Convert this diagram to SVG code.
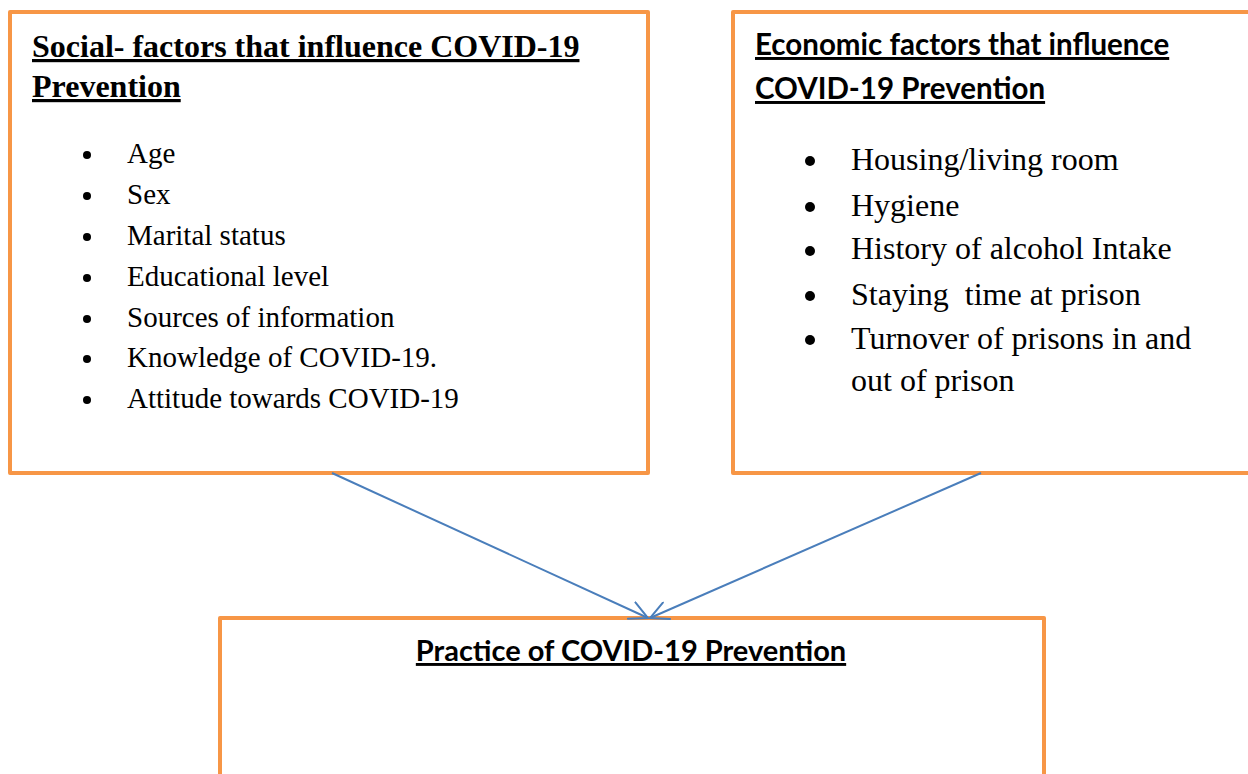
<svg xmlns="http://www.w3.org/2000/svg" width="1248" height="774" viewBox="0 0 1248 774">
  <style>
    .box { fill: #ffffff; stroke: #F79646; stroke-width: 4; stroke-linejoin: round; }
    .serif-title { font-family: "Liberation Serif", "Times New Roman", serif; font-weight: bold; font-size: 32px; fill: #000; text-decoration: underline; }
    .sans-title { font-family: Lato, "Liberation Sans", sans-serif; font-weight: bold; font-size: 29.5px; fill: #000; text-decoration: underline; }
    .item { font-family: "Liberation Serif", "Times New Roman", serif; fill: #000; }
    .left-item { font-size: 29px; }
    .right-item { font-size: 32px; }
    .link { stroke: #4A7EBB; stroke-width: 2; fill: none; }
  </style>
  <defs>
    <marker id="openArrow" viewBox="0 0 20 20" refX="19" refY="10" markerWidth="20" markerHeight="20" markerUnits="userSpaceOnUse" orient="auto">
      <path d="M1,1 L19,10 L1,19" fill="none" stroke="#4A7EBB" stroke-width="2" stroke-linecap="round"/>
    </marker>
  </defs>

  <rect width="1248" height="774" fill="#ffffff"/>

  <!-- Social factors -->
  <g id="social-factors">
    <rect class="box" x="10" y="12" width="638" height="461"/>
    <text class="serif-title" x="32" y="57">Social- factors that influence COVID-19</text>
    <text class="serif-title" x="32" y="97">Prevention</text>
    <g class="item left-item">
      <circle cx="87" cy="155" r="4"/><text x="127" y="163">Age</text>
      <circle cx="87" cy="196" r="4"/><text x="127" y="204">Sex</text>
      <circle cx="87" cy="237" r="4"/><text x="127" y="245">Marital status</text>
      <circle cx="87" cy="278" r="4"/><text x="127" y="286">Educational level</text>
      <circle cx="87" cy="319" r="4"/><text x="127" y="327">Sources of information</text>
      <circle cx="87" cy="359" r="4"/><text x="127" y="367">Knowledge of COVID-19.</text>
      <circle cx="87" cy="400" r="4"/><text x="127" y="408">Attitude towards COVID-19</text>
    </g>
  </g>

  <!-- Economic factors -->
  <g id="economic-factors">
    <rect class="box" x="733" y="12" width="540" height="461"/>
    <text class="sans-title" x="755" y="55">Economic factors that influence</text>
    <text class="sans-title" x="755" y="99">COVID-19 Prevention</text>
    <g class="item right-item">
      <circle cx="810" cy="161" r="5"/><text x="851" y="170">Housing/living room</text>
      <circle cx="810" cy="207" r="5"/><text x="851" y="216">Hygiene</text>
      <circle cx="810" cy="251" r="5"/><text x="851" y="259">History of alcohol Intake</text>
      <circle cx="810" cy="296" r="5"/><text x="851" y="305">Staying&#160; time at prison</text>
      <circle cx="810" cy="340" r="5"/><text x="851" y="349">Turnover of prisons in and</text>
      <text x="851" y="391">out of prison</text>
    </g>
  </g>

  <!-- Practice -->
  <g id="practice">
    <rect class="box" x="220" y="618" width="824" height="200"/>
    <text class="sans-title" x="631" y="661" text-anchor="middle" style="font-size:29px">Practice of COVID-19 Prevention</text>
  </g>

  <!-- Connectors -->
  <g id="connectors">
    <line class="link" x1="332" y1="473" x2="648" y2="618" marker-end="url(#openArrow)"/>
    <line class="link" x1="981" y1="473" x2="650" y2="618" marker-end="url(#openArrow)"/>
  </g>
</svg>
